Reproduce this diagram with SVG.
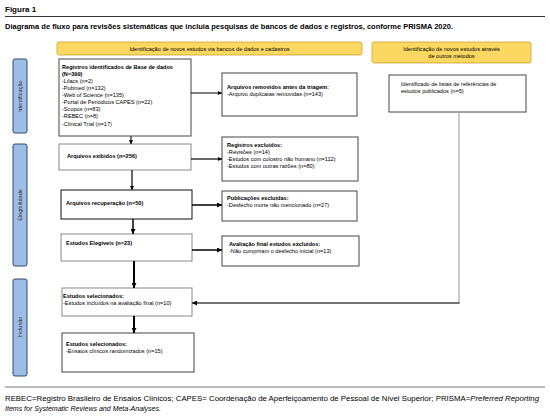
<svg xmlns="http://www.w3.org/2000/svg" width="550" height="419" viewBox="0 0 550 419">
<defs>
<marker id="ah" viewBox="0 0 10 10" refX="10" refY="5" markerWidth="4" markerHeight="4" markerUnits="userSpaceOnUse" orient="auto"><path d="M0,0 L10,5 L0,10 z" fill="#000"/></marker>
<marker id="ahb" viewBox="0 0 10 10" refX="10" refY="5" markerWidth="5" markerHeight="5" markerUnits="userSpaceOnUse" orient="auto"><path d="M0,0 L10,5 L0,10 z" fill="#000"/></marker>
<style>
text{font-family:"Liberation Sans",Arial,sans-serif;fill:#000}
.t{font-size:5.6px}
.b{font-size:5.6px;font-weight:bold}
.hdr{fill:#fcd863;stroke:#c9a232;stroke-width:0.8}
.bar{fill:#9dbde6;stroke:#2f4a70;stroke-width:1}
.box{fill:#fff;stroke:#444;stroke-width:1}
.lbox{fill:#fff;stroke:#8a8a8a;stroke-width:1}
.ph{font-size:5.6px;fill:#333}
.c{fill:none;stroke:#000;stroke-width:1}
.ft{font-size:6.8px}
</style>
</defs>
<text x="5" y="12" style="font-size:8px;font-weight:bold">Figura 1</text>
<line x1="5" y1="16.5" x2="545" y2="16.5" stroke="#000" stroke-width="0.8"/>
<text x="5" y="29" style="font-size:6.3px;font-weight:bold" textLength="448" lengthAdjust="spacingAndGlyphs">Diagrama de fluxo para revisões sistemáticas que incluia pesquisas de bancos de dados e registros, conforme PRISMA 2020.</text>

<g id="phase-identificacao"><rect class="bar" x="13" y="59" width="14" height="74" rx="2"/><text class="ph" transform="translate(22,96) rotate(-90)" text-anchor="middle">Identificação</text></g>
<g id="phase-elegibilidade"><rect class="bar" x="13" y="144" width="14" height="122" rx="2"/><text class="ph" transform="translate(22,205) rotate(-90)" text-anchor="middle">Elegibilidade</text></g>
<g id="phase-inclusao"><rect class="bar" x="13" y="279" width="14" height="97" rx="2"/><text class="ph" transform="translate(22,327) rotate(-90)" text-anchor="middle">Inclusão</text></g>

<g id="header-bancos"><rect class="hdr" x="57" y="42" width="305" height="13" rx="2"/><text class="t" x="209.5" y="50.5" text-anchor="middle">Identificação de novos estudos via bancos de dados e cadastros</text></g>
<g id="header-outros"><rect class="hdr" x="372" y="42" width="159" height="21" rx="2"/><text class="t" x="451.5" y="50.5" text-anchor="middle">Identificação de novos estudos através</text><text class="t" x="451.5" y="58" text-anchor="middle">de outros métodos</text></g>

<g id="registros"><rect class="box" x="59" y="59" width="132" height="77"/>
<text class="b" x="62" y="69">Registros identificados de Base de dados</text>
<text class="b" x="62" y="76">(N=399)</text>
<text class="t" x="62" y="83">-Lilacs (n=2)</text>
<text class="t" x="62" y="90">-Pubmed (n=132)</text>
<text class="t" x="62" y="97">-Web of Science (n=135)</text>
<text class="t" x="62" y="104">-Portal de Periódicos CAPES (n=22)</text>
<text class="t" x="62" y="111">-Scopus (n=83)</text>
<text class="t" x="62" y="118">-REBEC (n=8)</text>
<text class="t" x="62" y="126">-Clinical Trial (n=17)</text></g>

<g id="removidos"><rect class="box" x="222" y="73" width="135" height="43"/>
<text class="b" x="227" y="89">Arquivos removidos antes da triagem:</text>
<text class="t" x="227" y="95.5">-Arquivo duplicatas removidas (n=143)</text></g>

<g id="outros"><rect class="box" x="389" y="75" width="137" height="37"/>
<text class="t" x="401" y="86">Identificado de listas de referências de</text>
<text class="t" x="401" y="93">estudos publicados (n=5)</text></g>

<g id="exibidos"><rect class="lbox" x="59" y="144" width="132" height="26"/>
<text class="b" x="67" y="158">Arquivos exibidos (n=256)</text></g>

<g id="excluidos"><rect class="box" x="222" y="137" width="136" height="44"/>
<text class="b" x="227" y="147">Registros excluídos:</text>
<text class="t" x="227" y="153.5">-Revisões (n=14)</text>
<text class="t" x="227" y="160.5">-Estudos com colostro não humano (n=112)</text>
<text class="t" x="227" y="167.5">-Estudos com outras razões (n=80)</text></g>

<g id="recuperacao"><rect class="box" x="61" y="190" width="131" height="29" style="stroke:#111"/>
<text class="b" x="66" y="205">Arquivos recuperação (n=50)</text></g>

<g id="publicacoes"><rect class="box" x="222" y="191" width="135" height="30"/>
<text class="b" x="227" y="200">Publicações excluídas:</text>
<text class="t" x="227" y="207">-Desfecho morte não mencionado (n=27)</text></g>

<g id="elegiveis"><rect class="lbox" x="61" y="234" width="131" height="27"/>
<text class="b" x="66" y="245">Estudos Elegíveis (n=23)</text></g>

<g id="avaliacao"><rect class="box" x="222" y="236" width="137" height="30"/>
<text class="b" x="229" y="246">Avaliação final estudos excluídos:</text>
<text class="t" x="229" y="253">-Não cumpriram o desfecho inicial (n=13)</text></g>

<g id="selecionados1"><rect class="lbox" x="62" y="288" width="130" height="28"/>
<text class="b" x="63" y="298">Estudos selecionados:</text>
<text class="t" x="63" y="305">-Estudos incluídos na avaliação final (n=10)</text></g>

<g id="selecionados2"><rect class="box" x="62" y="333" width="132" height="39"/>
<text class="b" x="66" y="346">Estudos selecionados:</text>
<text class="t" x="66" y="353">-Ensaios clínicos randomizados (n=15)</text></g>

<g id="connectors">
<path class="c" d="M131,136 V144" marker-end="url(#ah)"/>
<path class="c" d="M191,93 H222" marker-end="url(#ah)"/>
<path class="c" style="stroke-width:1.2" d="M132,170 V190" marker-end="url(#ah)"/>
<path class="c" style="stroke-width:1.2" d="M191,159 H222" marker-end="url(#ah)"/>
<path class="c" style="stroke-width:1.5" d="M133,219 V234" marker-end="url(#ahb)"/>
<path class="c" style="stroke-width:1.5" d="M192,205 H222" marker-end="url(#ahb)"/>
<path class="c" style="stroke-width:2" d="M134,261 V288" marker-end="url(#ahb)"/>
<path class="c" style="stroke-width:1.5" d="M192,250 H222" marker-end="url(#ahb)"/>
<path class="c" style="stroke-width:2" d="M134,316 V333" marker-end="url(#ahb)"/>
<path fill="none" stroke="#a8a8a8" stroke-width="1.2" d="M459,112 V303"/>
<path class="c" style="stroke:#444;stroke-width:1.5" d="M459.6,303 H192" marker-end="url(#ahb)"/>
</g>

<line x1="5" y1="387" x2="545" y2="387" stroke="#777" stroke-width="1"/>
<text class="ft" x="5" y="401" textLength="534" lengthAdjust="spacingAndGlyphs">REBEC=Registro Brasileiro de Ensaios Clínicos; CAPES= Coordenação de Aperfeiçoamento de Pessoal de Nível Superior; PRISMA=<tspan font-style="italic">Preferred Reporting</tspan></text>
<text class="ft" x="5" y="411" style="font-style:italic" textLength="156" lengthAdjust="spacingAndGlyphs">Items for Systematic Reviews and Meta-Analyses.</text>
</svg>
